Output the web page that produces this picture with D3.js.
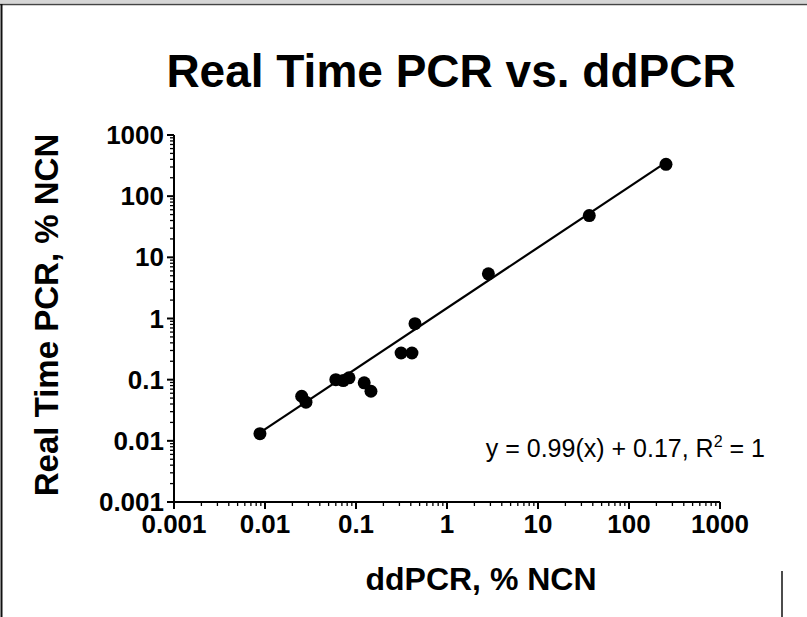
<!DOCTYPE html>
<html>
<head>
<meta charset="utf-8">
<script src="https://cdn.jsdelivr.net/npm/d3@7"></script>
<style>
  html, body { margin: 0; padding: 0; background: #fff; }
  svg { display: block; font-family: "Liberation Sans", Arial, Helvetica, sans-serif; }
</style>
</head>
<body>
<svg id="chart" width="807" height="617"></svg>
<script>
// ddPCR (x) vs Real Time PCR (y), % NCN
const ddpcr = [0.0088, 0.0253, 0.0282, 0.060, 0.0724, 0.0838, 0.123, 0.146, 0.313, 0.412, 0.445, 2.85, 36.6, 255];
const rtpcr = [0.0131, 0.0536, 0.0428, 0.100, 0.0967, 0.107, 0.0887, 0.0647, 0.273, 0.273, 0.822, 5.38, 48.1, 331];
const tickValues = [0.001, 0.01, 0.1, 1, 10, 100, 1000];
const tickLabels = ['0.001', '0.01', '0.1', '1', '10', '100', '1000'];
// fit in log space: log(y) = slope*log(x) + intercept
const fitSlope = 0.99;
const fitIntercept = 0.17;
const fitText = 'y = 0.99(x) + 0.17, R';

const svg = d3.select('#chart');
const W = 807, H = 617;

// page frame
svg.append('rect').attr('x', 0).attr('y', 0).attr('width', W).attr('height', 3.5).attr('fill', '#d6d6d6');
svg.append('line').attr('x1', 0).attr('x2', W).attr('y1', 4.5).attr('y2', 4.5)
  .attr('stroke', '#444').attr('stroke-width', 1.5);
svg.append('line').attr('x1', 1.5).attr('x2', 1.5).attr('y1', 4).attr('y2', H)
  .attr('stroke', '#111').attr('stroke-width', 2);
svg.append('line').attr('x1', 782).attr('x2', 782).attr('y1', 571).attr('y2', H)
  .attr('stroke', '#111').attr('stroke-width', 1.5);

const x = d3.scaleLog().domain([0.001, 1000]).range([174, 720]);
const y = d3.scaleLog().domain([0.001, 1000]).range([502, 135]);

// minor tick positions (2..9 in each decade)
const minor = [];
for (let d = 0; d < tickValues.length - 1; d++) {
  for (let m = 2; m <= 9; m++) minor.push(tickValues[d] * m);
}

// x axis
const gx = svg.append('g');
gx.append('line').attr('x1', x(0.001)).attr('x2', x(1000)).attr('y1', 502).attr('y2', 502)
  .attr('stroke', '#000').attr('stroke-width', 2);
gx.selectAll('.xmaj').data(tickValues).enter().append('line')
  .attr('x1', d => x(d)).attr('x2', d => x(d)).attr('y1', 502).attr('y2', 509)
  .attr('stroke', '#000').attr('stroke-width', 2);
gx.selectAll('.xmin').data(minor).enter().append('line')
  .attr('x1', d => x(d)).attr('x2', d => x(d)).attr('y1', 502).attr('y2', 506)
  .attr('stroke', '#000').attr('stroke-width', 1.3);
gx.selectAll('.xlab').data(tickValues).enter().append('text')
  .attr('x', d => x(d)).attr('y', 533)
  .attr('text-anchor', 'middle').attr('font-size', 26).attr('font-weight', 'bold')
  .text((d, i) => tickLabels[i]);

// y axis
const gy = svg.append('g');
gy.append('line').attr('x1', 174).attr('x2', 174).attr('y1', y(1000)).attr('y2', y(0.001))
  .attr('stroke', '#000').attr('stroke-width', 2);
gy.selectAll('.ymaj').data(tickValues).enter().append('line')
  .attr('x1', 167).attr('x2', 174).attr('y1', d => y(d)).attr('y2', d => y(d))
  .attr('stroke', '#000').attr('stroke-width', 2);
gy.selectAll('.ymin').data(minor).enter().append('line')
  .attr('x1', 170).attr('x2', 174).attr('y1', d => y(d)).attr('y2', d => y(d))
  .attr('stroke', '#000').attr('stroke-width', 1.3);
gy.selectAll('.ylab').data(tickValues).enter().append('text')
  .attr('x', 164).attr('y', d => y(d) + 9)
  .attr('text-anchor', 'end').attr('font-size', 26).attr('font-weight', 'bold')
  .text((d, i) => tickLabels[i]);

// regression line across the data range
const xr = d3.extent(ddpcr);
const fit = xr.map(v => ({ x: v, y: Math.pow(10, fitSlope * Math.log10(v) + fitIntercept) }));
svg.append('path')
  .datum(fit)
  .attr('fill', 'none')
  .attr('stroke', '#000')
  .attr('stroke-width', 2.2)
  .attr('d', d3.line().x(d => x(d.x)).y(d => y(d.y)));

// points
svg.selectAll('.dot').data(ddpcr).enter().append('circle')
  .attr('cx', d => x(d))
  .attr('cy', (d, i) => y(rtpcr[i]))
  .attr('r', 6.5)
  .attr('fill', '#000');

// equation
const eq = svg.append('text').attr('x', 765).attr('y', 457)
  .attr('text-anchor', 'end').attr('font-size', 25);
eq.append('tspan').text(fitText);
eq.append('tspan').attr('font-size', 16).attr('dy', -10).text('2');
eq.append('tspan').attr('dy', 10).text(' = 1');

// titles
svg.append('text').attr('x', 451).attr('y', 87)
  .attr('text-anchor', 'middle').attr('font-size', 46).attr('font-weight', 'bold')
  .text('Real Time PCR vs. ddPCR');
svg.append('text').attr('x', 481).attr('y', 590)
  .attr('text-anchor', 'middle').attr('font-size', 32).attr('font-weight', 'bold')
  .text('ddPCR, % NCN');
svg.append('text')
  .attr('transform', 'translate(58,315) rotate(-90)')
  .attr('text-anchor', 'middle').attr('font-size', 33).attr('font-weight', 'bold')
  .text('Real Time PCR, % NCN');
</script>
</body>
</html>
